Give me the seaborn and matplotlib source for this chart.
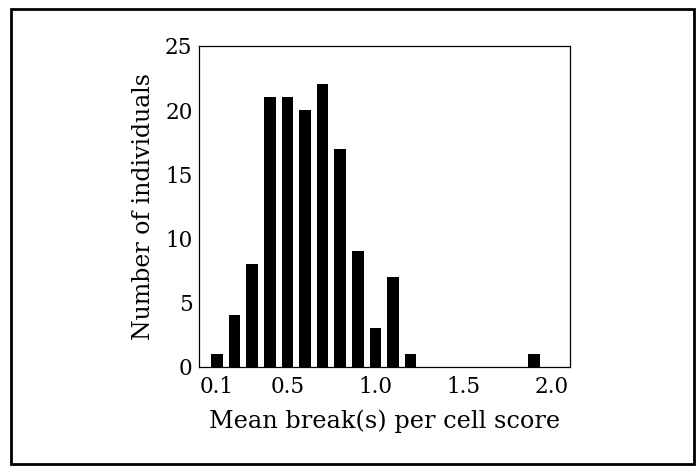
import pandas as pd
import seaborn as sns
import matplotlib.pyplot as plt
from matplotlib.patches import Rectangle

# Histogram values
break_score = [0.1, 0.2, 0.3, 0.4, 0.5, 0.6, 0.7, 0.8, 0.9, 1.0, 1.1, 1.2, 1.9]
n_individuals = [1, 4, 8, 21, 21, 20, 22, 17, 9, 3, 7, 1, 1]
x_ticks = [0.1, 0.5, 1.0, 1.5, 2.0]
x_tick_labels = ["0.1", "0.5", "1.0", "1.5", "2.0"]
y_ticks = [0, 5, 10, 15, 20, 25]

df = pd.DataFrame({"score": break_score, "count": n_individuals})

sns.set_style("white")
plt.rcParams["font.family"] = ["DejaVu Serif"]
plt.rcParams["text.color"] = "black"
plt.rcParams["axes.labelcolor"] = "black"
plt.rcParams["xtick.color"] = "black"
plt.rcParams["ytick.color"] = "black"

fig = plt.figure(figsize=(6.99, 4.66), dpi=100)
ax = fig.add_axes([0.2853, 0.2131, 0.5302, 0.6882])

sns.barplot(data=df, x="score", y="count", native_scale=True, width=0.66,
            color="black", saturation=1, linewidth=0, ax=ax)

ax.set_xlim(0, 2.106)
ax.set_ylim(0, 25)
ax.set_xticks(x_ticks)
ax.set_xticklabels(x_tick_labels)
ax.set_yticks(y_ticks)
ax.tick_params(labelsize=15.5, length=0)
ax.tick_params(axis="x", pad=7)
ax.tick_params(axis="y", pad=5)
ax.set_xlabel("Mean break(s) per cell score", fontsize=17.3, labelpad=8)
ax.set_ylabel("Number of individuals", fontsize=17, labelpad=7)
for s in ax.spines.values():
    s.set_color("black")
    s.set_linewidth(0.9)

# outer frame around the figure
fig.patches.append(Rectangle((11 / 699, 2 / 466), 683 / 699, 455 / 466,
                             transform=fig.transFigure, fill=False,
                             edgecolor="black", linewidth=2))

fig.savefig("out.png", dpi=100)
